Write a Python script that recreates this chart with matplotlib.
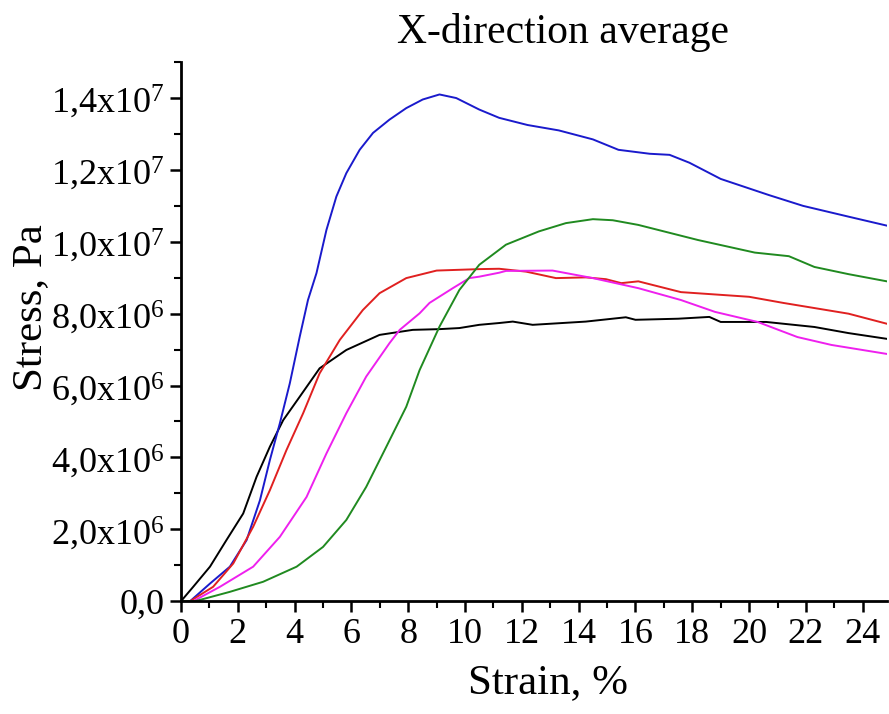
import matplotlib
matplotlib.use("Agg")
import matplotlib.pyplot as plt
from matplotlib.ticker import MultipleLocator, FuncFormatter

plt.rcParams["font.family"] = ["Liberation Serif", "DejaVu Serif"]
plt.rcParams["mathtext.fontset"] = "custom"
plt.rcParams["mathtext.rm"] = "Liberation Serif"
plt.rcParams["mathtext.it"] = "Liberation Serif"

# strain (%) / stress (Pa)
blue_x = [0, 0.32, 1.02, 1.72, 2.31, 2.78, 3.13, 3.48, 3.83, 4.18, 4.47, 4.77, 5.12, 5.47,
          5.82, 6.29, 6.76, 7.34, 7.93, 8.51, 9.1, 9.69, 10.5, 11.2, 12.2, 13.3, 14.5,
          15.4, 16.5, 17.2, 17.9, 19.0, 20.7, 21.9, 23.5, 24.85]
blue_y = [0, 0, 0.49e6, 0.96e6, 1.7e6, 2.81e6, 3.93e6, 4.95e6, 6.06e6, 7.36e6, 8.38e6,
          9.13e6, 10.33e6, 11.26e6, 11.91e6, 12.56e6, 13.03e6, 13.4e6, 13.72e6, 13.96e6,
          14.1e6, 14.0e6, 13.68e6, 13.45e6, 13.25e6, 13.1e6, 12.85e6, 12.56e6, 12.45e6,
          12.42e6, 12.2e6, 11.75e6, 11.3e6, 11.0e6, 10.7e6, 10.45e6]

black_x = [0, 0.43, 1.02, 1.6, 2.19, 2.66, 3.13, 3.6, 4.18, 4.88, 5.82, 6.99, 8.16, 9.1,
           9.8, 10.5, 11.2, 11.68, 12.38, 14.25, 15.66, 16.0, 17.5, 18.6, 19.0, 20.6,
           22.3, 23.5, 24.85]
black_y = [0, 0.4e6, 0.96e6, 1.7e6, 2.44e6, 3.46e6, 4.3e6, 5.04e6, 5.69e6, 6.48e6, 6.99e6,
           7.41e6, 7.55e6, 7.57e6, 7.6e6, 7.69e6, 7.74e6, 7.78e6, 7.69e6, 7.78e6, 7.9e6,
           7.83e6, 7.86e6, 7.91e6, 7.77e6, 7.77e6, 7.63e6, 7.46e6, 7.3e6]

red_x = [0, 0.32, 1.13, 1.84, 2.54, 3.13, 3.71, 4.3, 4.88, 5.59, 6.4, 6.99, 7.93, 9.0,
         10.5, 11.2, 12.15, 13.2, 14.25, 14.96, 15.5, 16.1, 17.6, 20.0, 21.2, 23.5, 24.85]
red_y = [0, 0, 0.4e6, 1.05e6, 2.07e6, 3.09e6, 4.2e6, 5.23e6, 6.34e6, 7.27e6, 8.1e6,
         8.57e6, 8.99e6, 9.2e6, 9.24e6, 9.25e6, 9.17e6, 8.99e6, 9.01e6, 8.96e6, 8.85e6,
         8.9e6, 8.6e6, 8.47e6, 8.3e6, 8.0e6, 7.72e6]

magenta_x = [0, 0.43, 1.37, 2.54, 3.48, 4.42, 5.12, 5.82, 6.52, 7.34, 7.7, 8.4, 8.75,
             9.57, 10.15, 10.5, 11.2, 11.44, 13.08, 14.5, 16.1, 17.6, 18.8, 20.3, 21.7,
             22.9, 24.85]
magenta_y = [0, 0, 0.4e6, 0.96e6, 1.79e6, 2.9e6, 4.11e6, 5.23e6, 6.25e6, 7.18e6, 7.55e6,
             8.01e6, 8.3e6, 8.71e6, 8.99e6, 9.03e6, 9.14e6, 9.19e6, 9.2e6, 8.99e6,
             8.71e6, 8.38e6, 8.05e6, 7.77e6, 7.35e6, 7.13e6, 6.88e6]

green_x = [0, 0.5, 1.72, 2.89, 4.07, 5.0, 5.82, 6.52, 7.23, 7.93, 8.4, 9.1, 9.8, 10.5,
           11.44, 12.6, 13.55, 14.5, 15.2, 16.1, 18.2, 20.2, 21.4, 22.3, 23.5, 24.85]
green_y = [0, 0, 0.26e6, 0.54e6, 0.96e6, 1.51e6, 2.26e6, 3.18e6, 4.3e6, 5.41e6, 6.43e6,
           7.64e6, 8.66e6, 9.36e6, 9.92e6, 10.29e6, 10.52e6, 10.63e6, 10.6e6, 10.47e6,
           10.05e6, 9.7e6, 9.6e6, 9.3e6, 9.1e6, 8.9e6]

series = [
    (black_x, black_y, "black"),
    (blue_x, blue_y, "#1a1acc"),
    (red_x, red_y, "#e02020"),
    (magenta_x, magenta_y, "#ee20ee"),
    (green_x, green_y, "#208a20"),
]

x_ticks = list(range(0, 25, 2))


def stress_fmt(v, pos):
    if v == 0:
        return "0,0"
    exp = 6 if v < 1e7 else 7
    mant = v / 10 ** exp
    s = f"{mant:.1f}".replace(".", ",")
    return s + r"x10$^{" + str(exp) + "}$"


fig = plt.figure(figsize=(8.89, 7.14), dpi=100)
ax = fig.add_axes([0.2036, 0.158, 0.794, 0.755])

for xs, ys, c in series:
    ax.plot(xs, ys, color=c, lw=1.4)

ax.set_xlim(0, 24.85)
ax.set_ylim(0, 1.5e7)
ax.set_xticks(x_ticks)
ax.xaxis.set_minor_locator(MultipleLocator(1))
ax.yaxis.set_major_locator(MultipleLocator(2e6))
ax.yaxis.set_minor_locator(MultipleLocator(1e6))
ax.yaxis.set_major_formatter(FuncFormatter(stress_fmt))

for side in ("top", "right"):
    ax.spines[side].set_visible(False)
for side in ("left", "bottom"):
    ax.spines[side].set_linewidth(2)

ax.tick_params(which="major", length=8, width=1.8, labelsize=26, pad=4)
ax.tick_params(which="minor", length=5, width=1.5)

ax.set_xlabel("Strain, %", fontsize=31)
ax.xaxis.set_label_coords(0.52, -0.115)
ax.set_ylabel("Stress, Pa", fontsize=31)
ax.yaxis.set_label_coords(-0.186, 0.545)
ax.set_title("X-direction average", fontsize=30, x=0.541, pad=14)

fig.savefig("out.png", dpi=100)
